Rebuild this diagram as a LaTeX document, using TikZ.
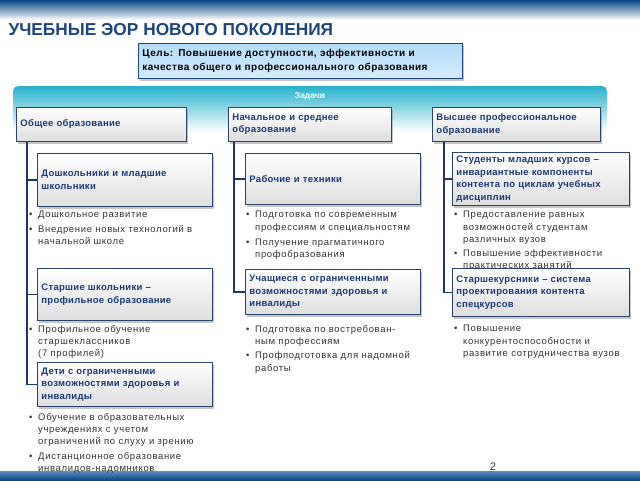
\documentclass[tikz,border=0pt]{standalone}
\usepackage{fontspec}
\setmainfont{Liberation Sans}
\usetikzlibrary{shadows}

\definecolor{titleblue}{RGB}{28,70,122}
\definecolor{barblue}{RGB}{10,72,135}
\definecolor{barmid}{RGB}{95,140,190}
\definecolor{boxline}{RGB}{40,68,110}
\definecolor{boxtext}{RGB}{28,58,118}
\definecolor{bandtop}{RGB}{38,178,204}
\definecolor{bandmid}{RGB}{140,215,230}
\definecolor{goaltop}{RGB}{178,220,248}
\definecolor{goalbot}{RGB}{214,236,252}
\definecolor{linkblue}{RGB}{30,55,100}

\newcommand{\bul}{\makebox[9pt][l]{\textbullet}}
\newcommand{\ind}{\hspace*{9pt}}

\begin{document}
\begin{tikzpicture}[%
      x=1pt, y=-1pt,
      headbox/.style={draw=boxline, line width=0.9pt, top color=white, bottom color=black!13,
        drop shadow={shadow xshift=2pt, shadow yshift=-2.5pt, opacity=0.45},
        anchor=north west, align=left, inner xsep=4pt, text=boxtext,
        font=\bfseries\fontsize{9.5}{12.5}\selectfont\addfontfeatures{LetterSpace=3}},
      subbox/.style={headbox},
      goalbox/.style={headbox, draw=titleblue, top color=goaltop, bottom color=goalbot, text=black,
        font=\bfseries\fontsize{10}{14}\selectfont\addfontfeatures{LetterSpace=5}},
      itemlist/.style={anchor=north west, inner sep=0pt, align=left, text=black!80,
        font=\fontsize{9.5}{12.3}\selectfont\addfontfeatures{LetterSpace=7}},
      link/.style={draw=linkblue, line width=1.2pt},
      ]
      \useasboundingbox (0,0) rectangle (640,480);

      % bars and band
      \shade[top color=barblue, middle color=barmid, bottom color=white] (0,0) rectangle (640,20);
      \shade[top color=barmid, bottom color=barblue] (0,471) rectangle (640,480);
      \shade[top color=bandtop, middle color=bandmid, bottom color=white, rounded corners=5pt]
        (13,86) rectangle (607,132);

      \node[anchor=west, text=titleblue, font=\bfseries\fontsize{17.3}{19}\selectfont] (title) at (5,30)
        {УЧЕБНЫЕ ЭОР НОВОГО ПОКОЛЕНИЯ};
      \node[goalbox, text width=316pt, minimum height=35pt] (goal) at (138,43)
        {Цель: Повышение доступности, эффективности и\\качества общего и профессионального образования};
      \node[text=white, font=\bfseries\fontsize{8.5}{10}\selectfont] (tasks) at (310,96) {Задачи};

      % headers
      \node[headbox, text width=162pt, minimum height=34pt] (h1) at (16,107) {Общее образование};
      \node[headbox, text width=155pt, minimum height=34pt] (h2) at (228,107) {Начальное и среднее\\образование};
      \node[headbox, text width=160pt, minimum height=34pt] (h3) at (432,107) {Высшее профессиональное\\образование};

      % item lists
      \node[itemlist] (l11) at (29,211) {\bul Дошкольное развитие\\[2pt]
        \bul Внедрение новых технологий в\\ \ind начальной школе};
      \node[itemlist] (l12) at (29,325) {\bul Профильное обучение\\ \ind старшеклассников\\ \ind (7 профилей)};
      \node[itemlist] (l13) at (29,413) {\bul Обучение в образовательных\\ \ind учреждениях с учетом\\
        \ind ограничений по слуху и зрению\\[2pt] \bul Дистанционное образование\\ \ind инвалидов-надомников};
      \node[itemlist] (l21) at (246,211) {\bul Подготовка по современным\\ \ind профессиям и специальностям\\[3pt]
        \bul Получение прагматичного\\ \ind профобразования};
      \node[itemlist] (l22) at (246,325) {\bul Подготовка по востребован-\\ \ind ным профессиям\\[2pt]
        \bul Профподготовка для надомной\\ \ind работы};
      \node[itemlist] (l31) at (454,211) {\bul Предоставление равных\\ \ind возможностей студентам\\
        \ind различных вузов\\[2pt] \bul Повышение эффективности\\ \ind практических занятий};
      \node[itemlist] (l32) at (454,325) {\bul Повышение\\ \ind конкурентоспособности и\\ \ind развитие сотрудничества вузов};

      % sub boxes
      \node[subbox, text width=167pt, minimum height=53pt] (b11) at (37,153) {Дошкольники и младшие\\школьники};
      \node[subbox, text width=167pt, minimum height=52pt] (b12) at (37,268) {Старшие школьники –\\профильное образование};
      \node[subbox, text width=167pt, minimum height=44pt] (b13) at (37,362)
        {Дети с ограниченными\\возможностями здоровья и\\инвалиды};
      \node[subbox, text width=167pt, minimum height=51pt] (b21) at (245,153) {Рабочие и техники};
      \node[subbox, text width=167pt, minimum height=45pt] (b22) at (245,269)
        {Учащиеся с ограниченными\\возможностями здоровья и\\инвалиды};
      \node[subbox, text width=169pt, minimum height=53pt] (b31) at (452,152)
        {Студенты младших курсов –\\инвариантные компоненты\\контента по циклам учебных\\дисциплин};
      \node[subbox, text width=169pt, minimum height=48pt] (b32) at (452,268)
        {Старшекурсники – система\\проектирования контента\\спецкурсов};

      % links
      \draw[link] ([xshift=11pt]h1.south west) |- (b11.west);
      \draw[link] ([xshift=11pt]h1.south west) |- (b12.west);
      \draw[link] ([xshift=11pt]h1.south west) |- (b13.west);
      \draw[link] ([xshift=6pt]h2.south west) |- (b21.west);
      \draw[link] ([xshift=6pt]h2.south west) |- (b22.west);
      \draw[link] ([xshift=12pt]h3.south west) |- (b31.west);
      \draw[link] ([xshift=12pt]h3.south west) |- (b32.west);

      \node[text=black!75, font=\fontsize{11}{12}\selectfont] (pnum) at (493,467) {2};
      \end{tikzpicture}
\end{document}
